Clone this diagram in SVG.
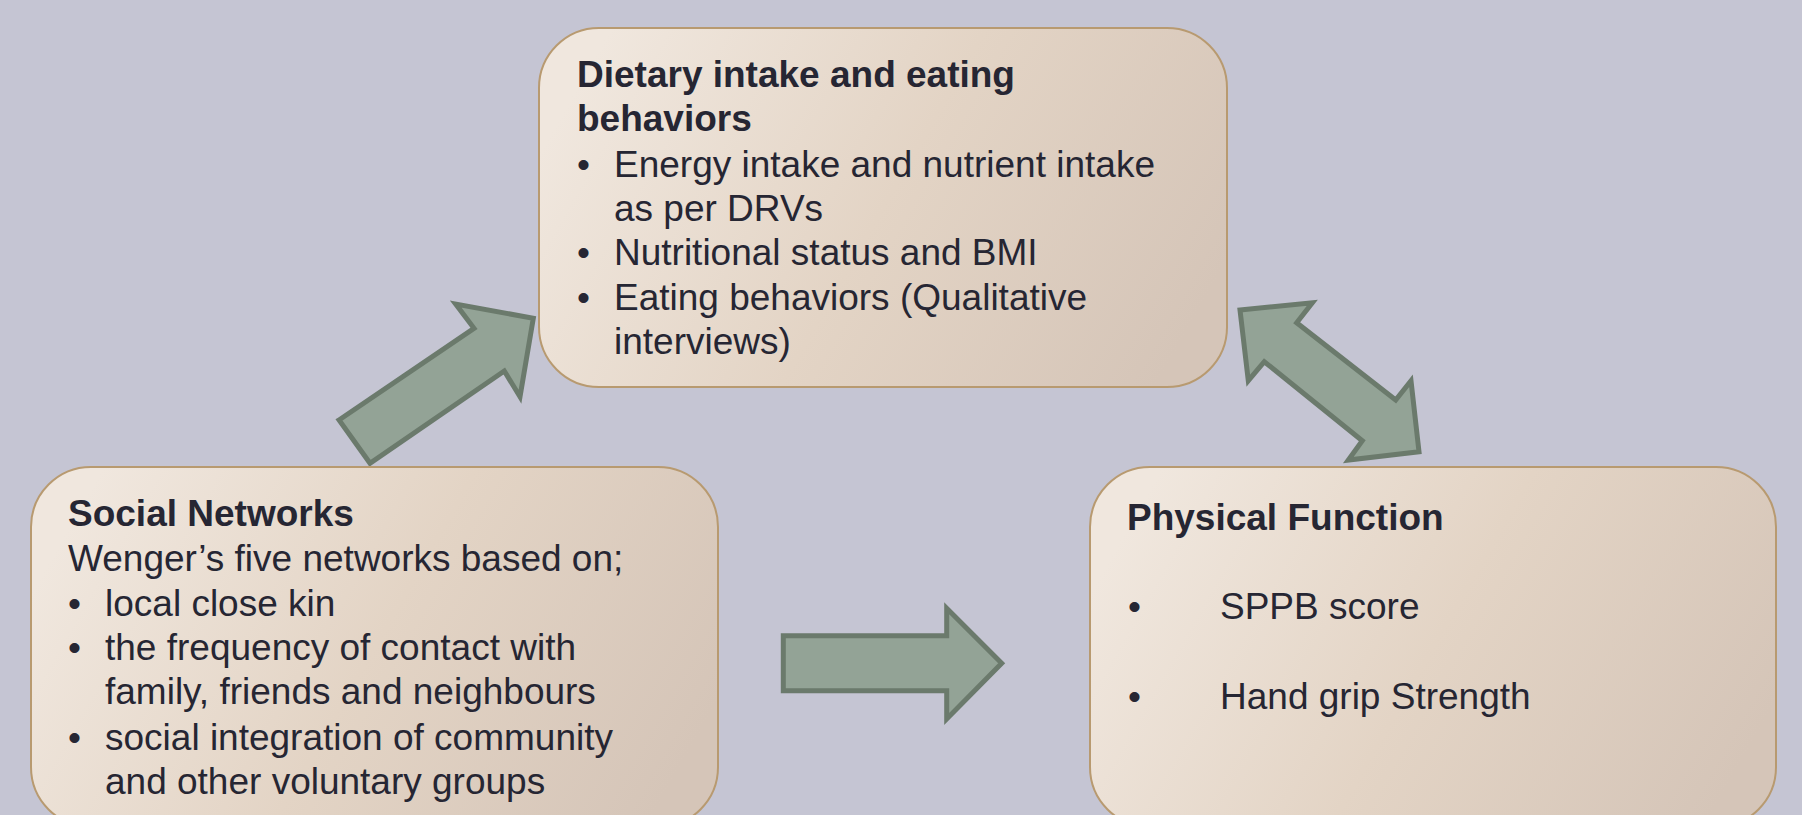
<svg xmlns="http://www.w3.org/2000/svg" width="1802" height="815" viewBox="0 0 1802 815">
  <defs>
    <linearGradient id="boxFill" x1="0" y1="0.35" x2="1" y2="0.65">
      <stop offset="0" stop-color="#f0e7de"/>
      <stop offset="0.5" stop-color="#e3d4c5"/>
      <stop offset="1" stop-color="#d5c5b8"/>
    </linearGradient>
    <style>
      .box { fill: url(#boxFill); stroke: #b89a70; stroke-width: 2; }
      .arrow { fill: #93a396; stroke: #6b7a6c; stroke-width: 5; stroke-linejoin: miter; }
      text { font-family: "Liberation Sans", Arial, sans-serif; font-size: 37px; fill: #262633; }
      .title { font-weight: bold; }
    </style>
  </defs>

  <rect width="1802" height="815" fill="#c5c5d3"/>

  <!-- connectors -->
  <g id="connectors">
    <!-- social networks to dietary intake -->
    <polygon class="arrow" points="339,420 474,328.3 455.7,304 533.3,318.3 520,396.7 504.3,371 370,463.3"/>
    <!-- dietary intake and physical function, both ways -->
    <polygon class="arrow" points="1240,310 1312.3,302.7 1296.7,322.7 1395.7,400 1411,380.7 1419,451.7 1348.3,460 1362.3,440.7 1264.3,361.7 1248.3,380.7"/>
    <!-- social networks to physical function -->
    <polygon class="arrow" points="783.3,635.7 946.7,635.7 946.7,608.3 1001.7,663.3 946.7,719 946.7,690.7 783.3,690.7"/>
  </g>

  <g id="node-dietary">
    <rect class="box" x="539" y="28" width="688" height="359" rx="60" ry="60"/>
    <text class="title" x="577" y="87">Dietary intake and eating</text>
    <text class="title" x="577" y="131">behaviors</text>
    <text x="577" y="177">•</text>
    <text x="614" y="177">Energy intake and nutrient intake</text>
    <text x="614" y="221">as per DRVs</text>
    <text x="577" y="265">•</text>
    <text x="614" y="265">Nutritional status and BMI</text>
    <text x="577" y="310">•</text>
    <text x="614" y="310">Eating behaviors (Qualitative</text>
    <text x="614" y="354">interviews)</text>
  </g>

  <g id="node-social">
    <rect class="box" x="31" y="467" width="687" height="360" rx="60" ry="60"/>
    <text class="title" x="68" y="526">Social Networks</text>
    <text x="68" y="571">Wenger’s five networks based on;</text>
    <text x="68" y="616">•</text>
    <text x="105" y="616">local close kin</text>
    <text x="68" y="660">•</text>
    <text x="105" y="660">the frequency of contact with</text>
    <text x="105" y="704">family, friends and neighbours</text>
    <text x="68" y="750">•</text>
    <text x="105" y="750">social integration of community</text>
    <text x="105" y="794">and other voluntary groups</text>
  </g>

  <g id="node-physical">
    <rect class="box" x="1090" y="467" width="686" height="360" rx="60" ry="60"/>
    <text class="title" x="1127" y="530">Physical Function</text>
    <text x="1128" y="619">•</text>
    <text x="1220" y="619">SPPB score</text>
    <text x="1128" y="709">•</text>
    <text x="1220" y="709">Hand grip Strength</text>
  </g>
</svg>
